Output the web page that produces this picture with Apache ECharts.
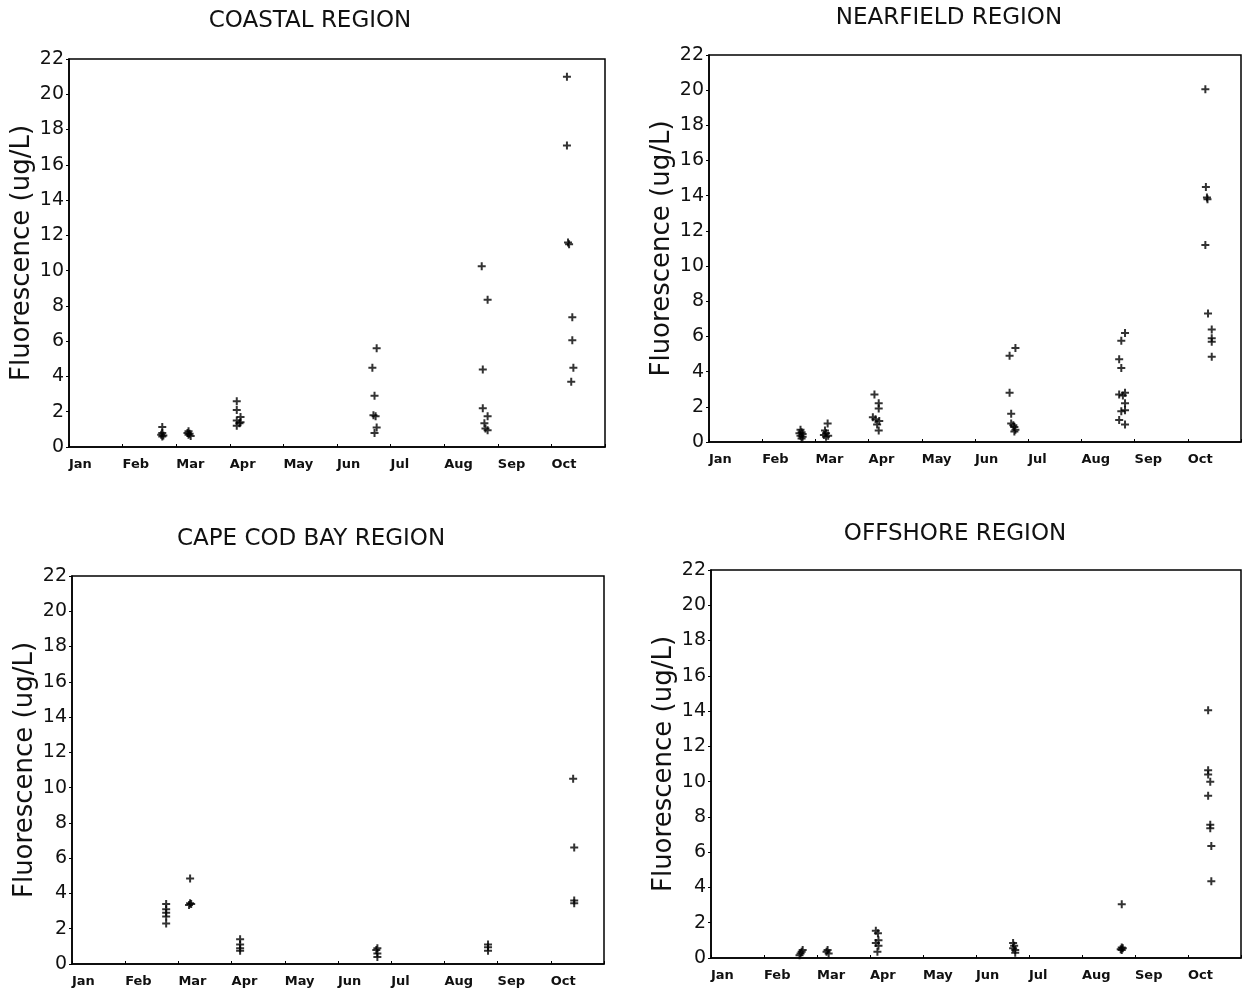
<!DOCTYPE html>
<html>
<head>
<meta charset="utf-8">
<script src="https://cdn.jsdelivr.net/npm/echarts@6/dist/echarts.min.js"></script>
<style>
  html, body { margin: 0; padding: 0; background: #fff; }
  #chart { width: 1244px; height: 995px; }
</style>
</head>
<body>
<div id="chart"></div>
<script>
// month labels, x value = months since Jan 1
var months = ['Jan', 'Feb', 'Mar', 'Apr', 'May', 'Jun', 'Jul', 'Aug', 'Sep', 'Oct'];
var regions = ['COASTAL REGION', 'NEARFIELD REGION', 'CAPE COD BAY REGION', 'OFFSHORE REGION'];
var yTicks = [0, 22, 2];

// [month, fluorescence ug/L]
var coastal = [
  [1.74, 1.13], [1.74, 0.8], [1.72, 0.7], [1.76, 0.65], [1.74, 0.6],
  [2.23, 0.9], [2.21, 0.8], [2.25, 0.75], [2.23, 0.7], [2.27, 0.62],
  [3.13, 2.6], [3.13, 2.1], [3.2, 1.7], [3.13, 1.5], [3.18, 1.35], [3.13, 1.2], [3.2, 1.4],
  [5.74, 5.6], [5.66, 4.5], [5.7, 2.9], [5.68, 1.8], [5.72, 1.75], [5.74, 1.1], [5.7, 0.8],
  [7.7, 10.25], [7.81, 8.35], [7.72, 4.4], [7.72, 2.2], [7.81, 1.75], [7.75, 1.35], [7.77, 1.05], [7.81, 0.95],
  [9.29, 21.0], [9.29, 17.1], [9.31, 11.6], [9.33, 11.5], [9.39, 7.35], [9.39, 6.05], [9.41, 4.5], [9.37, 3.7]
];
var nearfield = [
  [1.72, 0.7], [1.74, 0.55], [1.76, 0.45], [1.72, 0.35], [1.76, 0.3], [1.74, 0.2], [1.7, 0.5],
  [2.23, 1.05], [2.18, 0.65], [2.2, 0.5], [2.16, 0.4], [2.2, 0.3], [2.24, 0.35],
  [3.11, 2.7], [3.19, 2.2], [3.19, 1.9], [3.08, 1.4], [3.13, 1.3], [3.2, 1.2], [3.16, 1.0], [3.19, 0.65],
  [5.65, 4.9], [5.76, 5.35], [5.65, 2.8], [5.68, 1.6], [5.68, 1.05], [5.72, 0.95], [5.74, 0.85], [5.76, 0.7], [5.74, 0.6],
  [7.75, 5.75], [7.82, 6.2], [7.71, 4.7], [7.75, 4.2], [7.71, 2.7], [7.82, 2.8], [7.78, 2.65],
  [7.82, 2.2], [7.75, 1.75], [7.82, 1.8], [7.71, 1.25], [7.82, 1.0],
  [9.33, 20.05], [9.34, 14.5], [9.36, 13.9], [9.37, 13.8], [9.33, 11.2], [9.38, 7.3],
  [9.45, 6.4], [9.45, 5.9], [9.45, 5.7], [9.45, 4.85]
];
var capeCod = [
  [1.77, 3.4], [1.77, 3.1], [1.77, 2.9], [1.77, 2.7], [1.77, 2.3],
  [2.22, 4.85], [2.22, 3.45], [2.24, 3.4], [2.2, 3.35],
  [3.16, 1.4], [3.16, 1.1], [3.16, 0.9], [3.16, 0.75],
  [5.74, 0.9], [5.72, 0.8], [5.74, 0.6], [5.74, 0.4],
  [7.82, 1.1], [7.82, 0.95], [7.82, 0.75],
  [9.42, 10.5], [9.44, 6.6], [9.44, 3.6], [9.44, 3.45]
];
var offshore = [
  [1.73, 0.45], [1.71, 0.35], [1.69, 0.25], [1.67, 0.15],
  [2.2, 0.45], [2.18, 0.35], [2.22, 0.25],
  [3.11, 1.55], [3.15, 1.4], [3.16, 1.0], [3.11, 0.85], [3.16, 0.7], [3.14, 0.35],
  [5.7, 0.85], [5.72, 0.7], [5.7, 0.55], [5.74, 0.45], [5.74, 0.3],
  [7.75, 3.05], [7.75, 0.6], [7.73, 0.5], [7.77, 0.55], [7.75, 0.45],
  [9.38, 14.05], [9.38, 10.65], [9.38, 10.4], [9.42, 10.0], [9.38, 9.2],
  [9.42, 7.55], [9.42, 7.35], [9.44, 6.35], [9.44, 4.35]
];
var regionData = [coastal, nearfield, capeCod, offshore];

var grids = [
  { left: 69, right: 639, top: 59, bottom: 548 },
  { left: 709, right: 2, top: 55, bottom: 553 },
  { left: 72, right: 640, top: 576, bottom: 31 },
  { left: 711, right: 0, top: 570, bottom: 37 }
];
var titlePos = [[305, 5], [944, 2], [306, 523], [950, 518]];

var plus = 'path://M3,0h2v3h3v2h-3v3h-2v-3h-3v-2h3z';
var font = '"DejaVu Sans", "Noto Sans", sans-serif';

var option = {
  backgroundColor: '#fff',
  animation: false,
  title: regions.map(function (r, i) {
    return {
      text: r,
      left: titlePos[i][0],
      top: titlePos[i][1],
      textAlign: 'center',
      textStyle: { fontFamily: font, fontWeight: 'normal', fontSize: 23, color: '#111' }
    };
  }),
  grid: grids.map(function (g) {
    return Object.assign({ show: true, borderColor: '#000', borderWidth: 1.5, containLabel: false }, g);
  }),
  xAxis: grids.map(function (g, i) {
    return {
      type: 'value', gridIndex: i, min: 0, max: 10, interval: 1,
      axisLine: { onZero: false, lineStyle: { color: '#000', width: 1.5 } },
      axisTick: { inside: true, length: 3, lineStyle: { color: '#000' } },
      splitLine: { show: false },
      axisLabel: {
        formatter: function (v) { return months[v] || ''; },
        align: 'left', margin: 11,
        fontFamily: font, fontSize: 13, fontWeight: 'bold', color: '#111'
      }
    };
  }),
  yAxis: grids.map(function (g, i) {
    return {
      type: 'value', gridIndex: i, min: yTicks[0], max: yTicks[1], interval: yTicks[2],
      name: 'Fluorescence (ug/L)', nameLocation: 'middle', nameGap: 34,
      nameTextStyle: { fontFamily: font, fontSize: 26, color: '#111' },
      axisLine: { show: true, lineStyle: { color: '#000', width: 1.5 } },
      axisTick: { show: true, length: 3, lineStyle: { color: '#000' } },
      splitLine: { show: false },
      axisLabel: { margin: 5, fontFamily: font, fontSize: 19, color: '#111' }
    };
  }),
  series: regionData.map(function (d, i) {
    return {
      type: 'scatter', xAxisIndex: i, yAxisIndex: i,
      symbol: plus, symbolSize: 8,
      itemStyle: { color: '#000' },
      data: d
    };
  })
};

var myChart = echarts.init(document.getElementById('chart'));
myChart.setOption(option);
</script>
</body>
</html>
